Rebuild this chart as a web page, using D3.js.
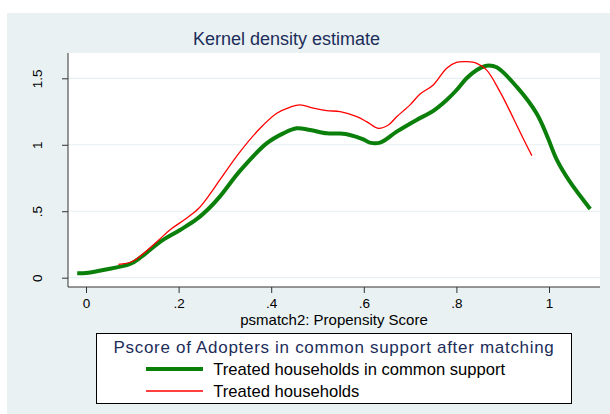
<!DOCTYPE html>
<html>
<head>
<meta charset="utf-8">
<script src="https://cdn.jsdelivr.net/npm/d3@7"></script>
<style>
    body { margin: 0; background: #fff; }
    text { font-family: "Liberation Sans", Arial, sans-serif; }
</style>
</head>
<body>
<div class="KDE"></div>
<script>
// values
const commonX = [-0.019, 0.0, 0.037, 0.095, 0.12, 0.16, 0.203, 0.239, 0.268, 0.289, 0.333, 0.39, 0.426, 0.455,
    0.484, 0.52, 0.549, 0.57, 0.599, 0.613, 0.635, 0.671, 0.714, 0.75, 0.779, 0.80, 0.822, 0.844, 0.865, 0.887,
    0.93, 0.973, 0.995, 1.017, 1.045, 1.089];
const commonY = [0.033, 0.035, 0.058, 0.103, 0.158, 0.27, 0.359, 0.44, 0.53, 0.61, 0.805, 1.01, 1.086, 1.124,
    1.111, 1.086, 1.084, 1.074, 1.041, 1.016, 1.016, 1.099, 1.187, 1.255, 1.337, 1.41, 1.50, 1.563, 1.595, 1.583,
    1.437, 1.237, 1.074, 0.886, 0.722, 0.517];

const treatedX = [0.07, 0.099, 0.12, 0.153, 0.181, 0.217, 0.243, 0.268, 0.289, 0.333, 0.376, 0.412, 0.44, 0.462,
    0.491, 0.52, 0.549, 0.585, 0.606, 0.631, 0.653, 0.671, 0.70, 0.721, 0.75, 0.779, 0.80, 0.822, 0.844, 0.865,
    0.894, 0.923, 0.944, 0.963];
const treatedY = [0.10, 0.12, 0.17, 0.27, 0.359, 0.447, 0.52, 0.63, 0.735, 0.948, 1.124, 1.237, 1.282, 1.30,
    1.275, 1.257, 1.249, 1.211, 1.174, 1.124, 1.149, 1.211, 1.30, 1.38, 1.45, 1.576, 1.62, 1.625, 1.613, 1.563,
    1.40, 1.20, 1.049, 0.918];

const xTicks = [0, 0.2, 0.4, 0.6, 0.8, 1];
const xTickLabels = ["0", ".2", ".4", ".6", ".8", "1"];
const yTicks = [0, 0.5, 1, 1.5];
const yTickLabels = ["0", ".5", "1", "1.5"];

const seriesNames = ["Treated households in common support", "Treated households"];

let svg = d3.select(".KDE").append("svg").attr("width", 610).attr("height", 414);

let plot = {left: 68, right: 600, top: 53, bottom: 287};

// outer graph region
svg.append("rect").attr("x", 7).attr("y", 13).attr("width", 603).attr("height", 401).attr("fill", "#e9f1f3");
svg.append("rect").attr("x", plot.left).attr("y", plot.top)
    .attr("width", plot.right - plot.left).attr("height", plot.bottom - plot.top).attr("fill", "#fff");

let x = d3.scaleLinear().domain([0, 1]).range([86, 549]);
let y = d3.scaleLinear().domain([0, 1.5]).range([277.7, 78.3]);

// grid
svg.append("g").selectAll("line").data(yTicks).enter().append("line")
    .attr("x1", plot.left).attr("x2", plot.right)
    .attr("y1", d => y(d)).attr("y2", d => y(d))
    .attr("stroke", "#e6eff1").attr("stroke-width", 1.2);

let line = d3.line().x(d => x(d[0])).y(d => y(d[1])).curve(d3.curveCatmullRom);

svg.append("path").datum(commonX.map((v, i) => [v, commonY[i]]))
    .attr("d", line).attr("fill", "none").attr("stroke", "#0a7f0a").attr("stroke-width", 4)
    .attr("stroke-linejoin", "round");
svg.append("path").datum(treatedX.map((v, i) => [v, treatedY[i]]))
    .attr("d", line).attr("fill", "none").attr("stroke", "#ff0000").attr("stroke-width", 1.3);

// axes
let yAxis = svg.append("g").attr("transform", "translate(" + plot.left + ",0)")
    .call(d3.axisLeft(y).tickValues(yTicks).tickSize(6).tickSizeOuter(0)
        .tickFormat((d, i) => yTickLabels[i]));
yAxis.select(".domain").attr("d", "M0," + plot.top + "V" + plot.bottom);
yAxis.selectAll("text").attr("x", null).attr("dy", null)
    .attr("transform", "translate(-26,0) rotate(-90)")
    .attr("text-anchor", "middle").attr("font-size", "13.5px").attr("fill", "#000");

let xAxis = svg.append("g").attr("transform", "translate(0," + plot.bottom + ")")
    .call(d3.axisBottom(x).tickValues(xTicks).tickSize(6).tickSizeOuter(0)
        .tickFormat((d, i) => xTickLabels[i]));
xAxis.select(".domain").attr("d", "M" + plot.left + ",0H" + plot.right);
xAxis.selectAll("text").attr("y", 11).attr("font-size", "13.5px").attr("fill", "#000");
svg.selectAll(".domain, .tick line").attr("stroke", "#333");

// titles
svg.append("text").attr("x", 286.5).attr("y", 45).attr("text-anchor", "middle")
    .attr("font-size", "18px").attr("fill", "#1c2d5a").text("Kernel density estimate");
svg.append("text").attr("x", 334).attr("y", 325).attr("text-anchor", "middle")
    .attr("font-size", "15px").attr("fill", "#000").text("psmatch2: Propensity Score");

// legend
let legend = svg.append("g");
legend.append("rect").attr("x", 96.5).attr("y", 333.5).attr("width", 475).attr("height", 70)
    .attr("fill", "#fff").attr("stroke", "#000").attr("stroke-width", 1);
legend.append("text").attr("x", 334).attr("y", 353).attr("text-anchor", "middle")
    .attr("font-size", "17px").attr("letter-spacing", "0.7px").attr("fill", "#1c2d5a")
    .text("Pscore of Adopters in common support after matching");

const legendColors = ["#0a7f0a", "#ff0000"];
const legendWidths = [4, 1.3];
seriesNames.forEach((name, i) => {
    let ly = 369 + i * 22;
    legend.append("line").attr("x1", 146).attr("x2", 203).attr("y1", ly).attr("y2", ly)
        .attr("stroke", legendColors[i]).attr("stroke-width", legendWidths[i]);
    legend.append("text").attr("x", 213.3).attr("y", ly + 6.3)
        .attr("font-size", "16.6px").attr("fill", "#000").text(name);
});
</script>
</body>
</html>
